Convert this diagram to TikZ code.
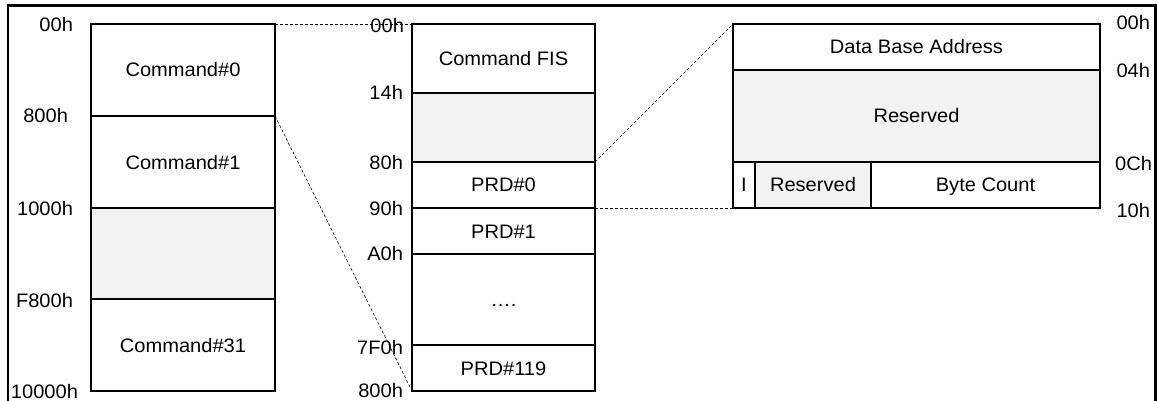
\documentclass[tikz,border=0pt]{standalone}
\usepackage{fontspec}
\setmainfont{Liberation Sans}[FakeStretch=1.03]
\definecolor{cellgray}{RGB}{242,242,242}
\newcommand{\fs}{\fontsize{19.5}{23}\selectfont}
\begin{document}
\begin{tikzpicture}[x=1pt,y=-1pt,
  cell/.style={draw,line width=1.8pt,inner sep=0pt,outer sep=0pt,anchor=north west,font=\fs,text height=14pt,text depth=0pt},
  shaded/.style={fill=cellgray},
  addr/.style={font=\fs,inner sep=0pt,outer sep=0pt,text height=14pt,text depth=0pt},
  guide/.style={line width=0.6pt,dash pattern=on 3pt off 2pt}]
\useasboundingbox (0,0) rectangle (1157,401);
% frame
\draw[line width=2.5pt] (8,410) -- (8,5.5) -- (1155.5,5.5) -- (1155.5,410);
% left column
\node[cell,minimum width=184pt,minimum height=92pt] (c0) at (91,24) {Command\#0};
\node[cell,minimum width=184pt,minimum height=92pt] (c1) at (91,116) {Command\#1};
\node[cell,shaded,minimum width=184pt,minimum height=91pt] (cg) at (91,208) {};
\node[cell,minimum width=184pt,minimum height=92pt] (c31) at (91,299) {Command\#31};
% middle column
\node[cell,minimum width=183pt,minimum height=69pt] (fis) at (412,24) {Command FIS};
\node[cell,shaded,minimum width=183pt,minimum height=69pt] (fg) at (412,93) {};
\node[cell,minimum width=183pt,minimum height=46pt] (p0) at (412,162) {PRD\#0};
\node[cell,minimum width=183pt,minimum height=46pt] (p1) at (412,208) {PRD\#1};
\node[cell,minimum width=183pt,minimum height=91pt] (pd) at (412,254) {….};
\node[cell,minimum width=183pt,minimum height=46pt] (p119) at (412,345) {PRD\#119};
% right column
\node[cell,minimum width=367pt,minimum height=46pt] (dba) at (733,24) {Data Base Address};
\node[cell,shaded,minimum width=367pt,minimum height=92pt] (rg) at (733,70) {Reserved};
\node[cell,minimum width=22pt,minimum height=46pt] (ib) at (733,162) {I};
\node[cell,shaded,minimum width=116pt,minimum height=46pt] (rr) at (755,162) {Reserved};
\node[cell,minimum width=229pt,minimum height=46pt] (bc) at (871,162) {Byte Count};
% left labels
\node[addr,anchor=east] (la0) at (73,25) {00h};
\node[addr,anchor=east] (la1) at (68,116) {800h};
\node[addr,anchor=east] (la2) at (73,208) {1000h};
\node[addr,anchor=east] (la3) at (73,300) {F800h};
\node[addr,anchor=east] (la4) at (78,391) {10000h};
% middle labels
\node[addr,anchor=east] (ma0) at (404,26) {00h};
\node[addr,anchor=east] (ma1) at (403,93) {14h};
\node[addr,anchor=east] (ma2) at (403,162) {80h};
\node[addr,anchor=east] (ma3) at (403,208) {90h};
\node[addr,anchor=east] (ma4) at (403,253) {A0h};
\node[addr,anchor=east] (ma5) at (403,347) {7F0h};
\node[addr,anchor=east] (ma6) at (403,390) {800h};
% right labels
\node[addr,anchor=east] (ra0) at (1150,23) {00h};
\node[addr,anchor=east] (ra1) at (1150,71) {04h};
\node[addr,anchor=east] (ra2) at (1152,164) {0Ch};
\node[addr,anchor=east] (ra3) at (1150,211) {10h};
% guides
\draw[guide] (c0.north east) -- (fis.north west);
\draw[guide] (c1.north east) -- (p119.south west);
\draw[guide] (fg.south east) -- (dba.north west);
\draw[guide] (p0.south east) -- (ib.south west);
\end{tikzpicture}
\end{document}
